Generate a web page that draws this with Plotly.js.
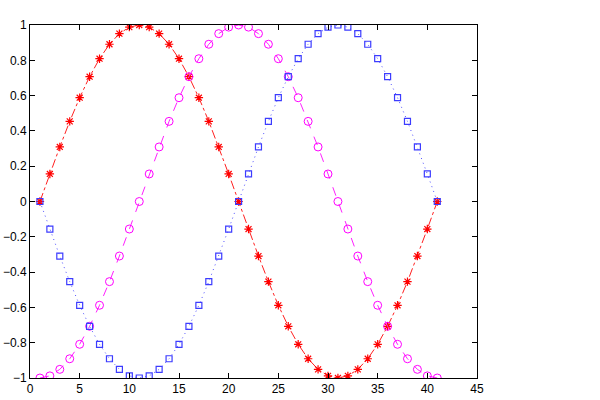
<!DOCTYPE html>
<html><head><meta charset="utf-8">
<script src="https://cdn.plot.ly/plotly-3.0.1.min.js"></script>
<style>html,body{margin:0;padding:0;background:#fff}</style>
</head><body><div id="chart" style="width:600px;height:400px"></div>
<script>
const xs = [1,2,3,4,5,6,7,8,9,10,11,12,13,14,15,16,17,18,19,20,21,22,23,24,25,26,27,28,29,30,31,32,33,34,35,36,37,38,39,40,41];
const redVals = [0,0.156,0.309,0.454,0.588,0.707,0.809,0.891,0.951,0.988,1,0.988,0.951,0.891,0.809,0.707,0.588,0.454,0.309,0.156,0,-0.156,-0.309,-0.454,-0.588,-0.707,-0.809,-0.891,-0.951,-0.988,-1,-0.988,-0.951,-0.891,-0.809,-0.707,-0.588,-0.454,-0.309,-0.156,0];
const magentaVals = [-1,-0.988,-0.951,-0.891,-0.809,-0.707,-0.588,-0.454,-0.309,-0.156,0,0.156,0.309,0.454,0.588,0.707,0.809,0.891,0.951,0.988,1,0.988,0.951,0.891,0.809,0.707,0.588,0.454,0.309,0.156,0,-0.156,-0.309,-0.454,-0.588,-0.707,-0.809,-0.891,-0.951,-0.988,-1];
const blueVals = [0,-0.156,-0.309,-0.454,-0.588,-0.707,-0.809,-0.891,-0.951,-0.988,-1,-0.988,-0.951,-0.891,-0.809,-0.707,-0.588,-0.454,-0.309,-0.156,0,0.156,0.309,0.454,0.588,0.707,0.809,0.891,0.951,0.988,1,0.988,0.951,0.891,0.809,0.707,0.588,0.454,0.309,0.156,0];
const xTicks = [0,5,10,15,20,25,30,35,40,45];
const yTicks = [-1,-0.8,-0.6,-0.4,-0.2,0,0.2,0.4,0.6,0.8,1];
const yTickText = ['\u22121','\u22120.8','\u22120.6','\u22120.4','\u22120.2','0','0.2','0.4','0.6','0.8','1'];

const traces = [
  {x: xs, y: redVals, mode: 'lines+markers', line: {color: '#ff2020', width: 1, dash: 'dashdot'},
   marker: {symbol: 'asterisk-open', size: 7, color: '#ff0000', line: {color: '#ff0000', width: 1.2}}},
  {x: xs, y: magentaVals, mode: 'lines+markers', line: {color: '#ff20ff', width: 1, dash: 'dash'},
   marker: {symbol: 'circle-open', size: 8, color: '#ff00ff', line: {color: '#ff00ff', width: 1}}},
  {x: xs, y: blueVals, mode: 'lines+markers', line: {color: '#5050ff', width: 1, dash: '1px,4px'},
   marker: {symbol: 'square-open', size: 6, color: '#3c3cff', line: {color: '#3c3cff', width: 1.2}}}
];
const axisCommon = {showgrid: false, zeroline: false, showline: true, linecolor: '#000', linewidth: 1,
  mirror: 'ticks', ticks: 'inside', ticklen: 5, tickcolor: '#000', tickwidth: 1,
  tickfont: {family: 'Liberation Sans, Arial, sans-serif', size: 12, color: '#000'}};
const layout = {
  width: 600, height: 400, showlegend: false,
  paper_bgcolor: '#fff', plot_bgcolor: '#fff',
  margin: {l: 30, r: 123, t: 25, b: 22},
  xaxis: Object.assign({}, axisCommon, {range: [0, 45], tickvals: xTicks, ticktext: xTicks.map(String)}),
  yaxis: Object.assign({}, axisCommon, {range: [-1, 1], tickvals: yTicks, ticktext: yTickText})
};
Plotly.newPlot('chart', traces, layout, {displayModeBar: false, staticPlot: true});
</script></body></html>
